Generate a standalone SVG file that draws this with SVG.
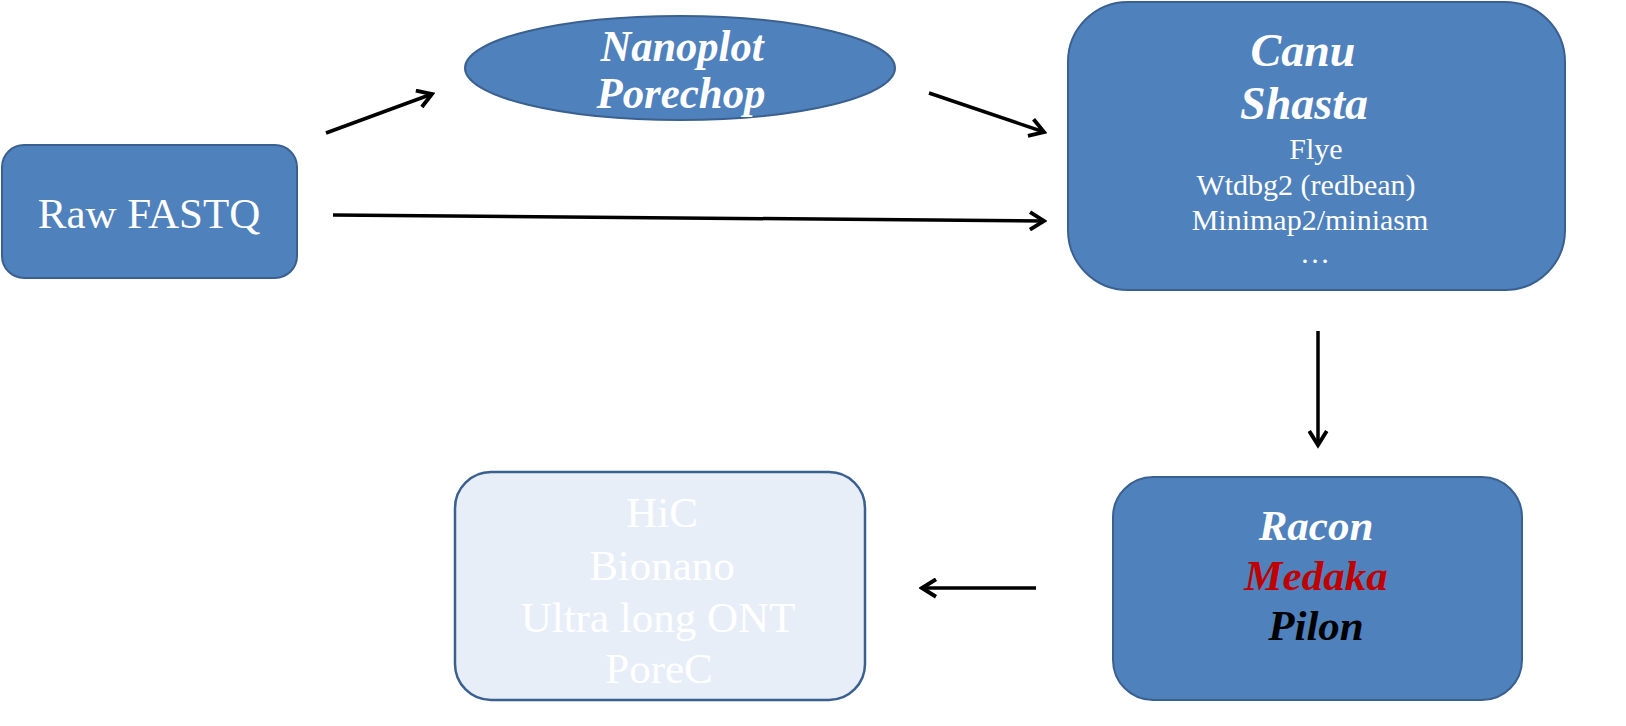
<svg xmlns="http://www.w3.org/2000/svg" width="1626" height="726" viewBox="0 0 1626 726">
<defs>
<style>
.node{fill:#4f81bd;stroke:#3a6090;stroke-width:2}
.light{fill:#e8eef7;stroke:#3a6090;stroke-width:2.5}
.bi{font-family:"Liberation Serif",serif;font-weight:bold;font-style:italic;text-anchor:middle}
.rg{font-family:"Liberation Serif",serif;text-anchor:middle}
.conn{stroke:#000;stroke-width:3.5;fill:none;marker-end:url(#ah)}
</style>
<marker id="ah" viewBox="0 0 12 12" refX="10" refY="6" markerWidth="6" markerHeight="6" orient="auto" markerUnits="strokeWidth">
<path d="M2,1 L10,6 L2,11" fill="none" stroke="#000" stroke-width="2.2"/>
</marker>
</defs>
<rect width="1626" height="726" fill="#fff"/>
<g id="connectors">
<line class="conn" x1="326" y1="133" x2="432" y2="94"/>
<line class="conn" x1="929" y1="93" x2="1044" y2="132"/>
<line class="conn" x1="333" y1="215" x2="1044" y2="221"/>
<line class="conn" x1="1318" y1="331" x2="1318" y2="445"/>
<line class="conn" x1="1036" y1="588" x2="922" y2="588"/>
</g>
<g id="raw">
<rect class="node" x="2" y="145" width="295" height="133" rx="22" stroke-width="3.5"/>
<text class="rg" x="149" y="228" font-size="43" fill="#fff">Raw FASTQ</text>
</g>
<g id="qc">
<ellipse class="node" cx="680" cy="68" rx="215" ry="52" stroke-width="3"/>
<text class="bi" x="682" y="61" font-size="44" fill="#fff" textLength="163" lengthAdjust="spacingAndGlyphs">Nanoplot</text>
<text class="bi" x="681" y="108" font-size="44" fill="#fff" textLength="169" lengthAdjust="spacingAndGlyphs">Porechop</text>
</g>
<g id="assembly">
<rect class="node" x="1068" y="2" width="497" height="288" rx="60"/>
<text class="bi" x="1303" y="66" font-size="46" fill="#fff">Canu</text>
<text class="bi" x="1304" y="119" font-size="46" fill="#fff">Shasta</text>
<text class="rg" x="1316" y="159" font-size="30" fill="#fff">Flye</text>
<text class="rg" x="1306" y="195" font-size="30" fill="#fff">Wtdbg2 (redbean)</text>
<text class="rg" x="1310" y="230" font-size="30" fill="#fff">Minimap2/miniasm</text>
<text class="rg" x="1315" y="263" font-size="30" fill="#fff">…</text>
</g>
<g id="polish">
<rect class="node" x="1113" y="477" width="409" height="223" rx="40"/>
<text class="bi" x="1316" y="540" font-size="43" fill="#fff">Racon</text>
<text class="bi" x="1316" y="590" font-size="43" fill="#c00000">Medaka</text>
<text class="bi" x="1316" y="640" font-size="43" fill="#000">Pilon</text>
</g>
<g id="scaffold">
<rect class="light" x="455" y="472" width="410" height="228" rx="36"/>
<text class="rg" x="662" y="527" font-size="43" fill="#fff">HiC</text>
<text class="rg" x="662" y="580" font-size="43" fill="#fff">Bionano</text>
<text class="rg" x="658" y="632" font-size="43" fill="#fff">Ultra long ONT</text>
<text class="rg" x="659" y="683" font-size="43" fill="#fff">PoreC</text>
</g>
</svg>
